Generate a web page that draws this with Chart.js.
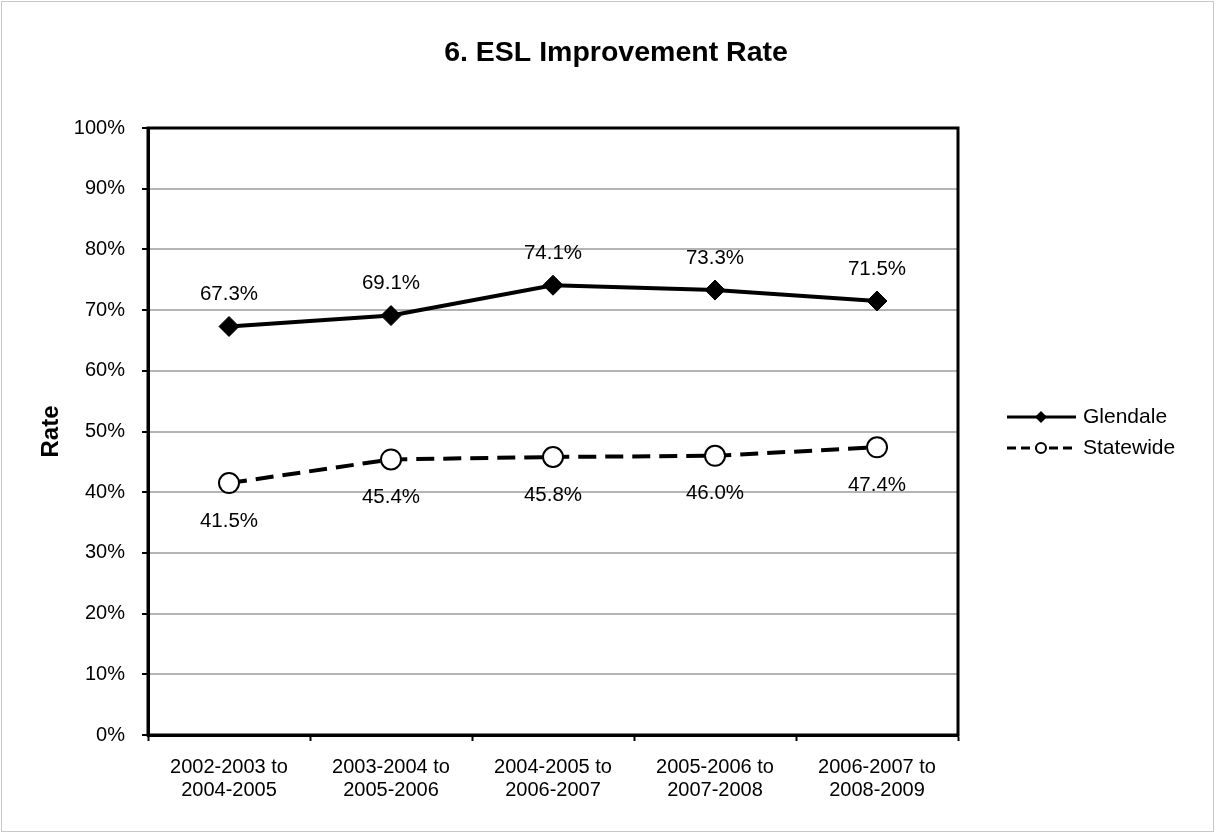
<!DOCTYPE html>
<html>
<head>
<meta charset="utf-8">
<script src="https://cdn.jsdelivr.net/npm/chart.js@4.4.1/dist/chart.umd.min.js"></script>
<style>
  html, body { margin: 0; padding: 0; background: #fff; }
  #wrap { width: 1215px; height: 833px; position: relative; }
</style>
</head>
<body>
<div id="wrap"><canvas id="chart" width="1215" height="833"></canvas></div>
<script>
const categories = [
    ['2002-2003 to', '2004-2005'],
    ['2003-2004 to', '2005-2006'],
    ['2004-2005 to', '2006-2007'],
    ['2005-2006 to', '2007-2008'],
    ['2006-2007 to', '2008-2009']
];
const glendale = [67.3, 69.1, 74.1, 73.3, 71.5];
const statewide = [41.5, 45.4, 45.8, 46.0, 47.4];
const series_names = ['Glendale', 'Statewide'];
const chart_title = '6. ESL Improvement Rate';

const font_family = '"Liberation Sans", Arial, sans-serif';

// value labels above (Glendale) and below (Statewide) each point
const value_labels = {
    id: 'value_labels',
    afterDatasetsDraw(chart) {
        const ctx = chart.ctx;
        ctx.save();
        ctx.font = '20.5px ' + font_family;
        ctx.fillStyle = '#000';
        ctx.textAlign = 'center';
        ctx.textBaseline = 'middle';
        chart.data.datasets.forEach((ds, i) => {
            const meta = chart.getDatasetMeta(i);
            meta.data.forEach((pt, j) => {
                const dy = i === 0 ? -32 : 38;
                ctx.fillText(ds.data[j].toFixed(1) + '%', pt.x, pt.y + dy);
            });
        });
        ctx.restore();
    }
};

// title, black plot frame, custom legend, outer border
const frame_and_legend = {
    id: 'frame_and_legend',
    afterDraw(chart) {
        const ctx = chart.ctx;
        const a = chart.chartArea;
        ctx.save();
        ctx.strokeStyle = '#000';
        ctx.lineWidth = 3;
        ctx.strokeRect(a.left, a.top, a.right - a.left, a.bottom - a.top);

        ctx.strokeStyle = '#c8c8c8';
        ctx.lineWidth = 1;
        ctx.strokeRect(1.5, 1.5, chart.width - 3, chart.height - 3);

        ctx.fillStyle = '#000';
        ctx.font = 'bold 28.5px ' + font_family;
        ctx.textAlign = 'center';
        ctx.textBaseline = 'middle';
        ctx.fillText(chart_title, 616, 53);

        const rows = [
            { y: 417, dash: [], point: 'diamond' },
            { y: 448, dash: [9, 5], point: 'circle' }
        ];
        rows.forEach((r, i) => {
            ctx.strokeStyle = '#000';
            ctx.lineWidth = 3;
            ctx.setLineDash(r.dash);
            ctx.beginPath();
            ctx.moveTo(1007, r.y);
            ctx.lineTo(1076, r.y);
            ctx.stroke();
            ctx.setLineDash([]);
            if (r.point === 'diamond') {
                ctx.fillStyle = '#000';
                ctx.beginPath();
                ctx.moveTo(1041, r.y - 6);
                ctx.lineTo(1047, r.y);
                ctx.lineTo(1041, r.y + 6);
                ctx.lineTo(1035, r.y);
                ctx.closePath();
                ctx.fill();
            } else {
                ctx.fillStyle = '#fff';
                ctx.lineWidth = 2;
                ctx.beginPath();
                ctx.arc(1041, r.y, 5, 0, Math.PI * 2);
                ctx.fill();
                ctx.stroke();
            }
            ctx.fillStyle = '#000';
            ctx.font = '21px ' + font_family;
            ctx.textAlign = 'left';
            ctx.textBaseline = 'middle';
            ctx.fillText(series_names[i], 1083, r.y);
        });
        ctx.restore();
    }
};

const chart_config = {
    type: 'line',
    data: {
        labels: categories,
        datasets: [{
            label: series_names[0],
            data: glendale,
            borderColor: '#000',
            backgroundColor: '#000',
            borderWidth: 4,
            pointStyle: 'rectRot',
            pointRadius: 10,
            pointBackgroundColor: '#000',
            pointBorderColor: '#000',
            pointBorderWidth: 1,
            tension: 0
        }, {
            label: series_names[1],
            data: statewide,
            borderColor: '#000',
            backgroundColor: '#fff',
            borderWidth: 4,
            borderDash: [18, 9],
            pointStyle: 'circle',
            pointRadius: 10,
            pointBackgroundColor: '#fff',
            pointBorderColor: '#000',
            pointBorderWidth: 2,
            tension: 0
        }]
    },
    options: {
        responsive: false,
        animation: false,
        layout: {
            padding: { left: 0, right: 257, top: 128, bottom: 0 }
        },
        scales: {
            x: {
                offset: true,
                afterFit(scale) { scale.height = 98; },
                grid: {
                    offset: true,
                    drawOnChartArea: false,
                    tickLength: 6,
                    tickColor: '#000',
                    tickWidth: 2
                },
                border: { color: '#000', width: 3 },
                ticks: {
                    color: '#000',
                    padding: 15,
                    maxRotation: 0,
                    font: { size: 20, family: font_family, lineHeight: 1.15 }
                }
            },
            y: {
                min: 0,
                max: 100,
                afterFit(scale) { scale.width = 148; },
                grid: {
                    color: '#b4b4b4',
                    lineWidth: 2,
                    tickLength: 6,
                    tickColor: '#000',
                    tickWidth: 2
                },
                border: { color: '#000', width: 3 },
                title: {
                    display: true,
                    text: 'Rate',
                    color: '#000',
                    padding: { top: 37, bottom: 0 },
                    font: { size: 24, weight: 'bold', family: font_family, lineHeight: 1.2 }
                },
                ticks: {
                    stepSize: 10,
                    color: '#000',
                    padding: 17,
                    font: { size: 20, family: font_family },
                    callback: (v) => v + '%'
                }
            }
        },
        plugins: {
            legend: { display: false },
            tooltip: { enabled: false },
            title: { display: false }
        }
    },
    plugins: [value_labels, frame_and_legend]
};

var chart = new Chart(
    document.getElementById('chart'),
    chart_config
);
</script>
</body>
</html>
